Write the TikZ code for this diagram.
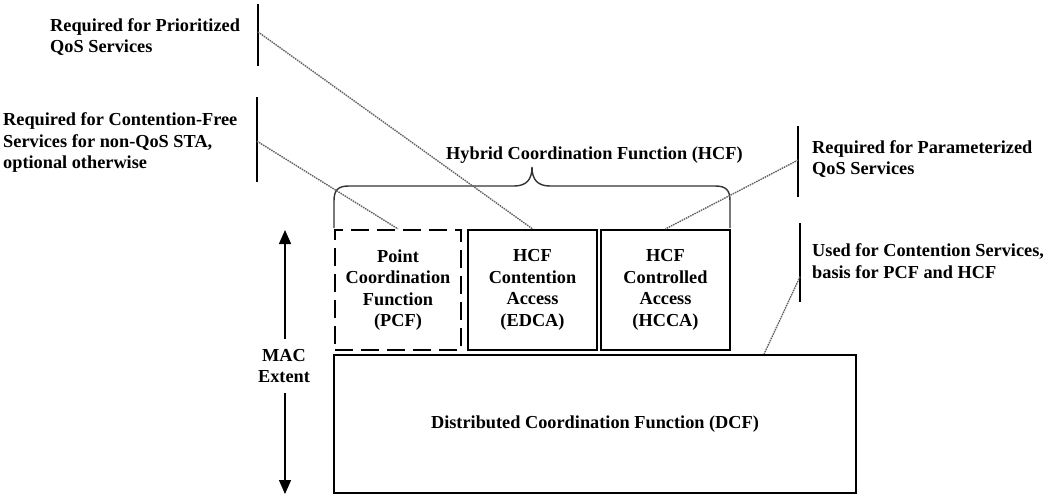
\documentclass[tikz,border=0pt]{standalone}
\usepackage{fontspec}
\setmainfont{Liberation Serif}
\usetikzlibrary{arrows.meta,positioning,calc}

\begin{document}
\begin{tikzpicture}[
    x=1pt, y=-1pt,
    txt/.style={font=\fontsize{18.3}{21.5}\selectfont\bfseries, inner sep=0pt},
    note/.style={txt, align=left, anchor=west},
    func/.style={txt, draw, line width=2.2pt, align=center, minimum width=129pt, minimum height=120pt},
    optfunc/.style={func, dash pattern=on 18pt off 8pt},
    leader/.style={line width=1.4pt, gray!75!black, dash pattern=on 1.5pt off 0.9pt},
    bar/.style={line width=1.4pt},
    hcfbrace/.style={line width=1.4pt, black!80},
    extent/.style={-{Triangle[length=14pt,width=12pt]}, line width=1.4pt}
]
\useasboundingbox (0,0) rectangle (1048,495);

% Function boxes
\node[optfunc, minimum width=126pt] (pcf) at (398,290) {Point\\Coordination\\Function\\(PCF)};
\node[func] (edca) at (532.5,290) {HCF\\Contention\\Access\\(EDCA)};
\node[func] (hcca) at (665.5,290) {HCF\\Controlled\\Access\\(HCCA)};
\node[func, minimum width=522pt, minimum height=138pt] (dcf) at (595,424) {Distributed Coordination Function (DCF)};

% MAC extent
\node[txt, align=center, inner ysep=10pt] (mac) at (284,366) {MAC\\Extent};
\coordinate (mactop) at (285,230);
\coordinate (macbot) at (285,494);
\draw[extent] (mac.north -| mactop) -- (mactop);
\draw[extent] (mac.south -| macbot) -- (macbot);

% Brace over the HCF boxes
\draw[hcfbrace] (334,228) -- (334,201) .. controls (334,190) and (338,186) .. (349,186)
    -- (514,186) .. controls (526,186) and (532,180) .. (532,167)
    .. controls (532,180) and (538,186) .. (550,186)
    -- (715,186) .. controls (726,186) and (730,190) .. (730,201) -- (730,228);
\node[txt, anchor=west] (hcf) at (446,155) {Hybrid Coordination Function (HCF)};

% Notes
\node[note] (prio) at (50,37) {Required for Prioritized\\QoS Services};
\node[note] (free) at (3,143) {Required for Contention-Free\\Services for non-QoS STA,\\optional otherwise};
\node[note] (param) at (812,159) {Required for Parameterized\\QoS Services};
\node[note] (basis) at (812,261) {Used for Contention Services,\\basis for PCF and HCF};

\draw[bar] (258,4) -- coordinate[pos=0.45] (priobar) (258,66);
\draw[bar] (257,97) -- coordinate[pos=0.52] (freebar) (257,182);
\draw[bar] (798,126) -- coordinate[pos=0.48] (parambar) (798,197);
\draw[bar] (800,223) -- coordinate[pos=0.68] (basisbar) (800,302);

% Leaders
\draw[leader] (priobar) -- (edca.north);
\draw[leader] (freebar) -- (pcf.north);
\draw[leader] (parambar) -- (hcca.north);
\draw[leader] (basisbar) -- ([xshift=-93pt]dcf.north east);
\end{tikzpicture}
\end{document}
